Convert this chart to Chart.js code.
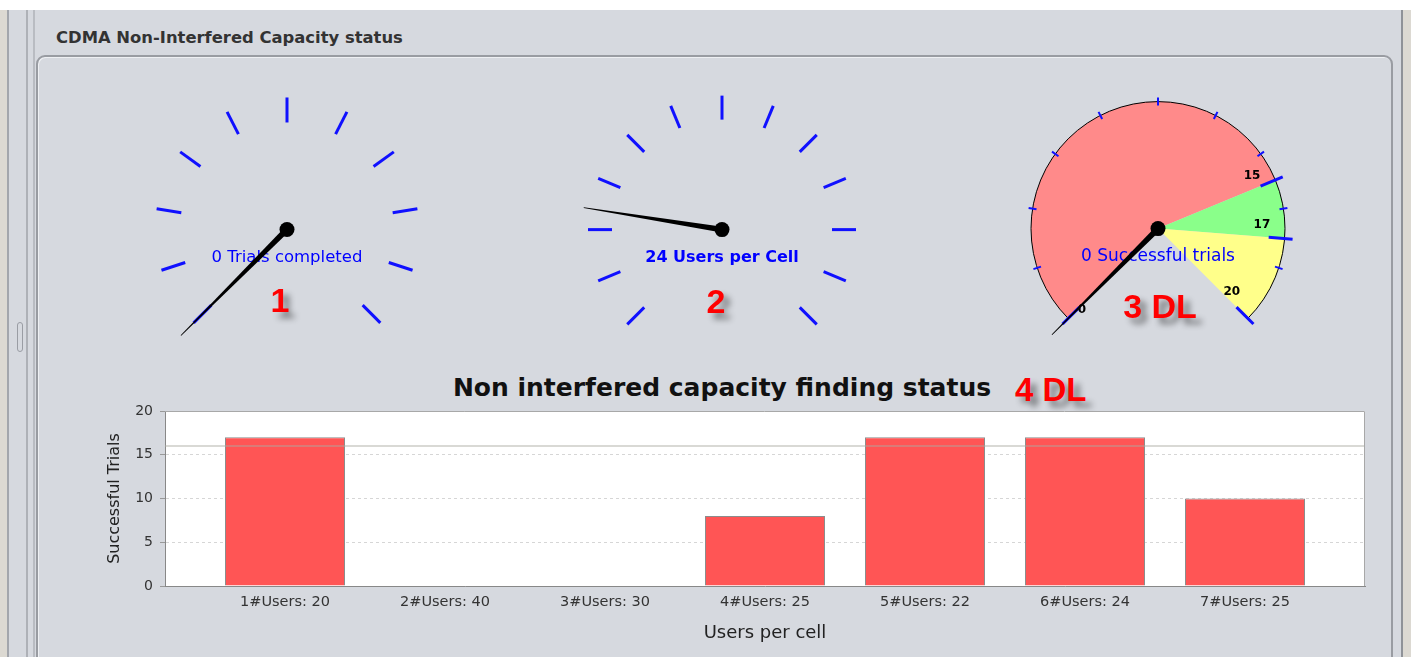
<!DOCTYPE html>
<html lang="en">
<head>
<meta charset="UTF-8">
<title>CDMA Non-Interfered Capacity status</title>
<script src="https://cdn.jsdelivr.net/npm/chart.js"></script>
<style>
  html, body { margin: 0; padding: 0; }
  body {
    width: 1411px; height: 657px; overflow: hidden; position: relative;
    background: #d6d9df; font-family: "Liberation Sans", Arial, sans-serif;
  }
  .abs { position: absolute; }
  #topStrip { left: 0; top: 0; width: 1411px; height: 10px; background: #fff; }
  #leftEdge { left: 0; top: 10px; width: 7px; height: 647px; background: #dcd9d2; border-right: 2px solid #a3a6ac; }
  #leftLine { left: 26px; top: 10px; width: 2px; height: 647px; background: #aeb1b7; }
  #leftShadow { left: 33px; top: 10px; width: 2px; height: 647px; background: #b9bcc2; }
  #grip { left: 17px; top: 322px; width: 4px; height: 28px; border: 1px solid #9a9da4; border-radius: 3px; }
  #rightLine { left: 1401px; top: 10px; width: 2px; height: 647px; background: #8f9298; }
  #rightEdge { left: 1403px; top: 10px; width: 8px; height: 647px; background: #dcd9d2; }
  #panel {
    left: 36px; top: 55px; width: 1353px; height: 640px;
    border: 2px solid #999ca2; border-radius: 9px;
    box-shadow: inset 1px 1px 0 #eef0f3;
  }
  #panelTitle {
    left: 56px; top: 28px; font-family: "DejaVu Sans", sans-serif;
    font-size: 16.4px; font-weight: bold; color: #333; line-height: 20px;
  }
  .red {
    color: #ff0000; font-weight: bold; font-family: "Liberation Sans", Arial, sans-serif;
    text-shadow: 6px 6px 6px rgba(0,0,0,0.45); line-height: 1; white-space: nowrap;
  }
  .num { width: 100px; text-align: center; font-size: 34px; }
  #barTitle {
    left: 322px; top: 374px; width: 800px; text-align: center;
    font-family: "DejaVu Sans", sans-serif; font-weight: bold; font-size: 25px; line-height: 28px; color: #111;
  }
  canvas { position: absolute; }
</style>
</head>
<body>
  <div class="abs" id="topStrip"></div>
  <div class="abs" id="leftEdge"></div>
  <div class="abs" id="leftLine"></div>
  <div class="abs" id="leftShadow"></div>
  <div class="abs" id="grip"></div>
  <div class="abs" id="rightLine"></div>
  <div class="abs" id="rightEdge"></div>
  <div class="abs" id="panel"></div>
  <div class="abs" id="panelTitle">CDMA Non-Interfered Capacity status</div>

  <canvas id="gauge1" width="340" height="280" style="left:117px; top:70px;"></canvas>
  <canvas id="gauge2" width="340" height="280" style="left:552px; top:70px;"></canvas>
  <canvas id="gauge3" width="340" height="280" style="left:988px; top:70px;"></canvas>

  <div class="abs red num" style="left:230px; top:283px;">1</div>
  <div class="abs red num" style="left:666px; top:284px;">2</div>
  <div class="abs red num" style="left:1110px; top:289px;">3 DL</div>

  <div class="abs" id="barTitle">Non interfered capacity finding status</div>
  <div class="abs red" style="left:1015px; top:373px; font-size:33px;">4 DL</div>

  <canvas id="bars" width="1290" height="250" style="left:95px; top:400px;"></canvas>

<script>
// gauge 1 - trials completed
const trialsTicks = [0, 1, 2, 3, 4, 5, 6, 7, 8, 9, 10];
const trialsValue = 0;

// gauge 2 - users per cell
const usersTicks = [0, 10, 20, 30, 40, 50, 60, 70, 80, 90, 100, 110, 120];
const usersValue = 24;

// gauge 3 - successful trials (DL)
const successTicks = [0, 2, 4, 6, 8, 10, 12, 14, 16, 18, 20];
const successBands = [15, 17, 20];
const successBandColors = ['#ff8a8a', '#8aff8a', '#ffff8a'];
const successMarks = [0, 15, 17, 20];
const successValue = 0;

// bar chart
const categories = ['1#Users: 20', '2#Users: 40', '3#Users: 30', '4#Users: 25', '5#Users: 22', '6#Users: 24', '7#Users: 25'];
const successfulTrials = [17, 0, 0, 8, 17, 17, 10];
const yTicks = [0, 5, 10, 15, 20];
const targetLine = 16;

function gaugePlugin(g) {
  return {
    id: 'gauge',
    afterDatasetsDraw(chart) {
      const ctx = chart.ctx;
      const arcs = chart.getDatasetMeta(0).data;
      const cx = arcs[0].x, cy = arcs[0].y;
      const a0 = arcs[0].startAngle, a1 = arcs[arcs.length - 1].endAngle;
      const lo = g.ticks[0], hi = g.ticks[g.ticks.length - 1];
      const ang = v => a0 + (v - lo) / (hi - lo) * (a1 - a0);
      const line = (t, r1, r2) => {
        ctx.beginPath();
        ctx.moveTo(cx + r1 * Math.cos(t), cy + r1 * Math.sin(t));
        ctx.lineTo(cx + r2 * Math.cos(t), cy + r2 * Math.sin(t));
        ctx.stroke();
      };
      ctx.save();
      if (g.outline) {
        ctx.strokeStyle = '#000';
        ctx.lineWidth = 1;
        ctx.beginPath();
        ctx.arc(cx, cy, g.radius, a0, a1);
        ctx.stroke();
      }
      ctx.strokeStyle = '#1010ff';
      ctx.lineWidth = g.tickWidth;
      g.ticks.forEach(v => line(ang(v), g.tickIn, g.tickOut));
      if (g.marks) {
        ctx.lineWidth = 3;
        g.marks.forEach(v => line(ang(v), g.radius - 16, g.radius + 8));
        ctx.fillStyle = '#000';
        ctx.font = 'bold 12px "DejaVu Sans", sans-serif';
        ctx.textAlign = 'center';
        ctx.textBaseline = 'middle';
        g.marks.forEach((v, i) => {
          const t = ang(v) + g.markShift[i];
          const r = g.markR[i];
          ctx.fillText(String(v), cx + r * Math.cos(t), cy + r * Math.sin(t));
        });
      }
      ctx.fillStyle = '#0000ff';
      ctx.font = g.captionFont;
      ctx.textAlign = 'center';
      ctx.textBaseline = 'middle';
      ctx.fillText(g.caption, cx, cy + 28);

      // needle
      const t = ang(g.value);
      const nx = -Math.sin(t), ny = Math.cos(t);
      const tx = cx + g.needle * Math.cos(t), ty = cy + g.needle * Math.sin(t);
      ctx.fillStyle = '#000';
      ctx.beginPath();
      ctx.moveTo(cx + 3 * nx, cy + 3 * ny);
      ctx.lineTo(tx + 0.4 * nx, ty + 0.4 * ny);
      ctx.lineTo(tx - 0.4 * nx, ty - 0.4 * ny);
      ctx.lineTo(cx - 3 * nx, cy - 3 * ny);
      ctx.closePath();
      ctx.fill();
      ctx.beginPath();
      ctx.arc(cx, cy, 7.5, 0, Math.PI * 2);
      ctx.fill();
      ctx.restore();
    }
  };
}

function makeGauge(id, g) {
  const lo = g.ticks[0], hi = g.ticks[g.ticks.length - 1];
  const bands = g.bands || [hi];
  const sizes = bands.map((b, i) => b - (i ? bands[i - 1] : lo));
  return new Chart(document.getElementById(id), {
    type: 'doughnut',
    data: {
      labels: bands.map(String),
      datasets: [{
        data: sizes,
        backgroundColor: g.colors || ['rgba(0,0,0,0)'],
        borderWidth: 0,
        hoverOffset: 0
      }]
    },
    options: {
      responsive: false,
      animation: false,
      events: [],
      rotation: -135,
      circumference: 270,
      cutout: g.cutout,
      radius: g.radius,
      plugins: { legend: { display: false }, tooltip: { enabled: false } }
    },
    plugins: [gaugePlugin(g)]
  });
}

makeGauge('gauge1', {
  ticks: trialsTicks, value: trialsValue, radius: 133, cutout: '90%',
  tickIn: 107, tickOut: 132, tickWidth: 3, needle: 150,
  caption: trialsValue + ' Trials completed', captionFont: '16.5px "DejaVu Sans", sans-serif'
});
makeGauge('gauge2', {
  ticks: usersTicks, value: usersValue, radius: 134, cutout: '90%',
  tickIn: 110, tickOut: 134, tickWidth: 3, needle: 140,
  caption: usersValue + ' Users per Cell', captionFont: 'bold 16px "DejaVu Sans", sans-serif'
});
makeGauge('gauge3', {
  ticks: successTicks, value: successValue, radius: 127, cutout: 0,
  bands: successBands, colors: successBandColors, marks: successMarks, outline: true,
  markShift: [-0.03, -0.12, -0.117, -0.08], markR: [111, 108, 104, 97],
  tickIn: 123, tickOut: 131, tickWidth: 2, needle: 150,
  caption: successValue + ' Successful trials', captionFont: '17px "DejaVu Sans", sans-serif'
});

const plotFrame = {
  id: 'plotFrame',
  beforeDraw(chart) {
    const { ctx, chartArea: a } = chart;
    ctx.save();
    ctx.fillStyle = '#fff';
    ctx.fillRect(a.left, a.top, a.right - a.left, a.bottom - a.top);
    ctx.restore();
  },
  afterDatasetsDraw(chart) {
    const { ctx, chartArea: a } = chart;
    const y = chart.scales.y.getPixelForValue(targetLine);
    ctx.save();
    ctx.strokeStyle = 'rgba(170,170,160,0.6)';
    ctx.lineWidth = 1.5;
    ctx.beginPath();
    ctx.moveTo(a.left, y);
    ctx.lineTo(a.right, y);
    ctx.stroke();
    ctx.strokeStyle = '#a8a8a8';
    ctx.lineWidth = 1;
    ctx.beginPath();
    ctx.moveTo(a.left, a.top + 0.5);
    ctx.lineTo(a.right - 0.5, a.top + 0.5);
    ctx.lineTo(a.right - 0.5, a.bottom);
    ctx.stroke();
    ctx.restore();
  }
};

new Chart(document.getElementById('bars'), {
  type: 'bar',
  data: {
    datasets: [{
      data: successfulTrials.map((v, i) => ({ x: i + 1, y: v })),
      backgroundColor: '#ff5555',
      borderColor: '#8c8c8c',
      borderWidth: 1,
      categoryPercentage: 1,
      barPercentage: 0.75
    }]
  },
  options: {
    responsive: false,
    animation: false,
    events: [],
    layout: { padding: { top: 11, right: 20, left: 0, bottom: 0 } },
    plugins: { legend: { display: false }, tooltip: { enabled: false } },
    scales: {
      x: {
        type: 'linear',
        min: 0.25,
        max: categories.length + 0.75,
        offset: false,
        grid: { display: false, offset: false },
        border: { color: '#888' },
        afterBuildTicks: s => { s.ticks = categories.map((c, i) => ({ value: i + 1 })); },
        ticks: {
          callback: v => categories[v - 1],
          font: { family: 'DejaVu Sans', size: 14.5 },
          color: '#333', padding: 0, maxRotation: 0, autoSkip: false
        },
        title: {
          display: true, text: 'Users per cell', color: '#222',
          font: { family: 'DejaVu Sans', size: 18 }, padding: { top: 4, bottom: 6 }
        },
        afterFit: s => { s.height = 64; }
      },
      y: {
        min: 0,
        max: 20,
        afterBuildTicks: s => { s.ticks = yTicks.map(v => ({ value: v })); },
        grid: { color: '#d6d6d6', tickLength: 5, tickColor: '#999' },
        border: { color: '#888', dash: [3, 3] },
        ticks: { font: { family: 'DejaVu Sans', size: 14 }, color: '#333', padding: 7 },
        title: {
          display: true, text: 'Successful Trials', color: '#222',
          font: { family: 'DejaVu Sans', size: 16 }, padding: { top: 10, bottom: 0 }
        },
        afterFit: s => { s.width = 70; s.paddingTop = 0; s.paddingBottom = 0; }
      }
    }
  },
  plugins: [plotFrame]
});
</script>
</body>
</html>
